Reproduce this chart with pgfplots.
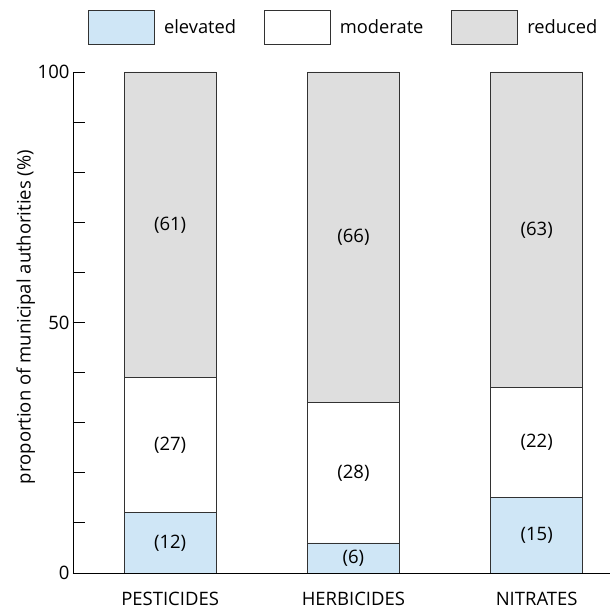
\documentclass[border=0pt]{standalone}
\usepackage{pgfplots}
\pgfplotsset{compat=1.18}
\usepackage{pgfplotstable}
\usepackage{fontspec}
\setmainfont{Open Sans}
\definecolor{elev}{RGB}{207,230,246}
\definecolor{redu}{RGB}{222,222,222}
\definecolor{edge}{RGB}{50,50,50}
\pgfplotsset{boxlegend/.style={legend image code/.code={\draw[##1] (0pt,-17pt) rectangle (66pt,17pt);}}}
\pgfplotstableread{
x elev mod red
0 12 27 61
1 6 28 66
2 15 22 63
}\data
\begin{document}
\begin{tikzpicture}
\useasboundingbox (-73pt,-36pt) rectangle (537pt,573pt);
\begin{axis}[
  at={(0pt,0pt)}, anchor=south west,
  scale only axis, width=537pt, height=501pt,
  ybar stacked, bar width=0.5,
  xmin=-0.53, xmax=2.40, ymin=0, ymax=100,
  axis x line*=bottom, axis y line*=left,
  axis line style={-, line width=0.8pt, black},
  xtick={0,1,2}, xticklabels={PESTICIDES,HERBICIDES,NITRATES},
  xtick style={draw=none},
  ytick={0,50,100}, minor ytick={10,20,...,90},
  tick align=inside, major tick length=12pt, minor tick length=12pt,
  ytick style={line width=0.8pt, black},
  /pgf/number format/assume math mode=true,
  tick label style={font=\fontsize{18.5}{22}\selectfont},
  xticklabel style={yshift=-16pt},
  ylabel={proportion of municipal authorities (\%)},
  ylabel style={font=\fontsize{18.5}{22}\selectfont, at={(axis description cs:-0.088,0.511)}, anchor=center},
  legend style={at={(axis description cs:0.028,1.09)}, anchor=west, draw=none, fill=none,
    inner sep=0pt, font=\fontsize{18.3}{22}\selectfont,
    nodes={inner sep=0pt},
    /tikz/every odd column/.append style={column sep=9pt},
    /tikz/every even column/.append style={column sep=28pt}},
  legend columns=3,
  nodes near coords={(\pgfmathprintnumber{\pgfplotspointmeta})},
  point meta=explicit,
  every node near coord/.append style={anchor=center, font=\fontsize{18.5}{22}\selectfont, text=black},
]
\addplot[fill=elev, draw=edge, line width=0.8pt, boxlegend]
  table[x=x, y=elev, meta=elev] {\data};
\addplot[fill=white, draw=edge, line width=0.8pt, boxlegend]
  table[x=x, y=mod, meta=mod] {\data};
\addplot[fill=redu, draw=edge, line width=0.8pt, boxlegend]
  table[x=x, y=red, meta=red] {\data};
\legend{elevated, moderate, reduced}
\end{axis}
\end{tikzpicture}
\end{document}
